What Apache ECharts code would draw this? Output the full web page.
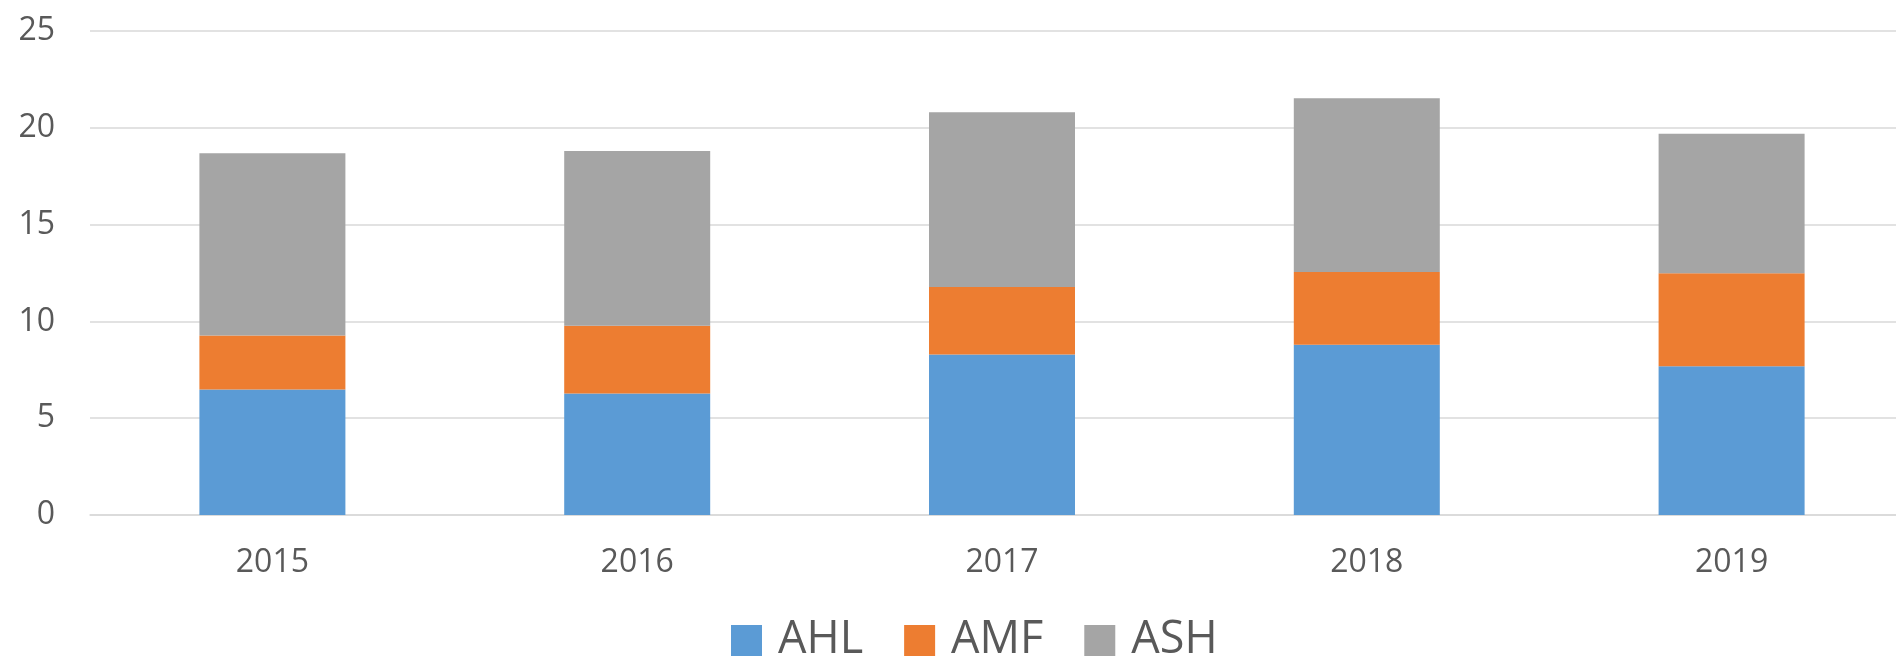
<!DOCTYPE html>
<html>
<head>
<meta charset="utf-8">
<script src="https://cdn.jsdelivr.net/npm/echarts@6/dist/echarts.min.js"></script>
<style>
  html, body { margin: 0; padding: 0; background: #fff; overflow: hidden; }
  /* the original plot area is cut off at the right edge, so the chart is a bit wider than the window */
  #chart { width: 1914px; height: 659px; }
</style>
</head>
<body>
<div id="chart"></div>
<script>
    // values
    var years = ['2015', '2016', '2017', '2018', '2019'];
    var ahl = [6.48, 6.27, 8.29, 8.80, 7.68];
    var amf = [2.79, 3.50, 3.49, 3.75, 4.81];
    var ash = [9.42, 9.03, 9.02, 8.98, 7.20];

    var myChart = echarts.init(document.getElementById('chart'));
    var labelColor = '#595959';
    var fontFamily = '"Open Sans", "Noto Sans", sans-serif';

    var options = {
        animation: false,
        color: ['#5B9BD5', '#ED7D31', '#A5A5A5'],
        legend: {
            left: 726,
            top: 613,
            itemWidth: 31,
            itemHeight: 31,
            itemGap: 41,
            icon: 'rect',
            textStyle: {
                fontSize: 45,
                color: labelColor,
                fontFamily: fontFamily,
                padding: [0, 0, 0, 11]
            },
            data: ['AHL', 'AMF', 'ASH']
        },
        grid: {
            left: 90,
            right: 0,
            top: 31,
            bottom: 144,
            containLabel: false
        },
        xAxis: {
            type: 'category',
            data: years,
            axisLine: { lineStyle: { color: '#D9D9D9', width: 1.5 } },
            axisTick: { show: false },
            axisLabel: {
                color: labelColor,
                fontSize: 32,
                fontFamily: fontFamily,
                margin: 32
            }
        },
        yAxis: {
            type: 'value',
            min: 0,
            max: 25,
            interval: 5,
            axisLine: { show: false },
            axisTick: { show: false },
            splitLine: { lineStyle: { color: '#D9D9D9', width: 1.5 } },
            axisLabel: {
                color: labelColor,
                fontSize: 32,
                fontFamily: fontFamily,
                margin: 35
            }
        },
        series: [
            { name: 'AHL', type: 'bar', stack: 'total', barWidth: 146, data: ahl },
            { name: 'AMF', type: 'bar', stack: 'total', barWidth: 146, data: amf },
            { name: 'ASH', type: 'bar', stack: 'total', barWidth: 146, data: ash }
        ]
    };
    myChart.setOption(options);
</script>
</body>
</html>
